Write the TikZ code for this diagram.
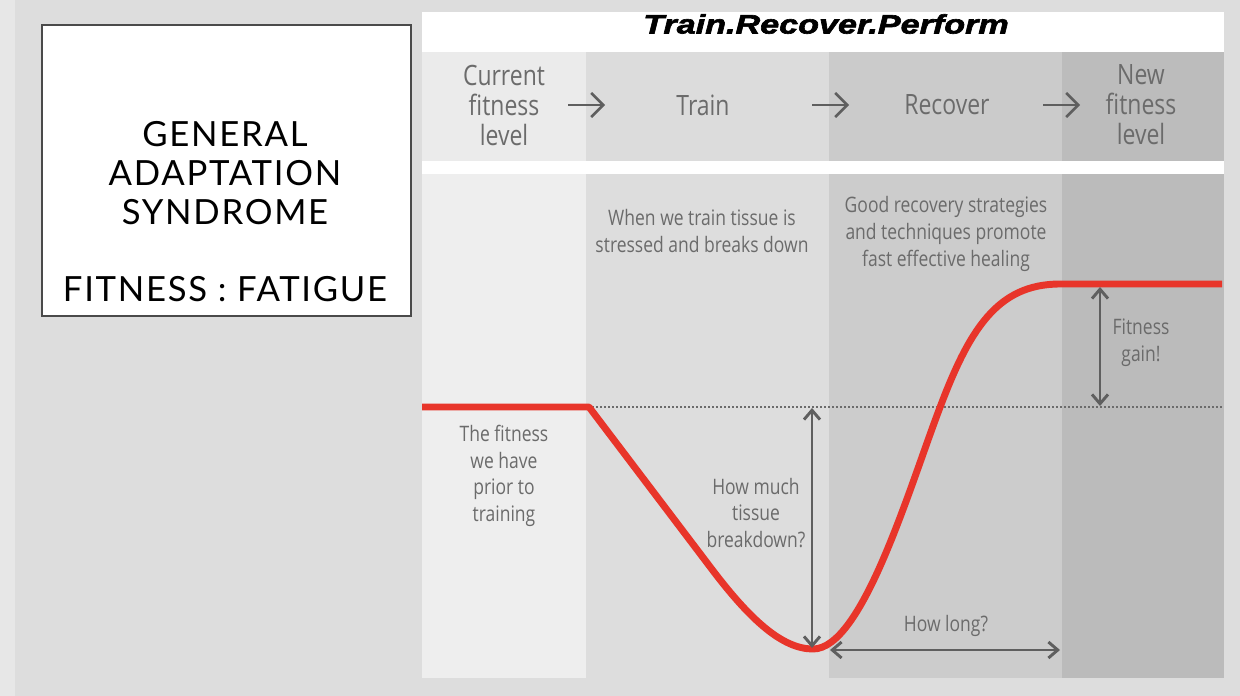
\documentclass[tikz,border=0pt]{standalone}
\usepackage{fontspec}
\usetikzlibrary{arrows.meta}
\newfontfamily\chartfont{Open Sans}[FakeStretch=0.82]
\newfontfamily\boxfont{Lato}[LetterSpace=5]
\newfontfamily\titlefont{Liberation Sans}[FakeStretch=1.28,FakeBold=2.4]
\definecolor{pagebg}{HTML}{DDDDDD}
\definecolor{stripbg}{HTML}{E7E7E7}
\definecolor{boxborder}{HTML}{4A4A4A}
\definecolor{colA}{HTML}{EEEEEE}
\definecolor{colB}{HTML}{DDDDDD}
\definecolor{colC}{HTML}{CCCCCC}
\definecolor{colD}{HTML}{BBBBBB}
\definecolor{hdrA}{HTML}{EBEBEB}
\definecolor{hdrB}{HTML}{DCDCDC}
\definecolor{hdrC}{HTML}{CBCBCB}
\definecolor{hdrD}{HTML}{BCBCBC}
\definecolor{txtgray}{HTML}{6B6B6B}
\definecolor{arrgray}{HTML}{5F5F5F}
\definecolor{curvered}{HTML}{E8352A}
\tikzset{
  boxtext/.style={font={\boxfont\fontsize{26}{29}\selectfont}, text=black, align=center, inner sep=0pt},
  hdrtext/.style={font={\chartfont\fontsize{21}{22.5}\selectfont}, text=txtgray, align=center, inner sep=0pt},
  lowtext/.style={font={\chartfont\fontsize{16}{20}\selectfont}, text=txtgray, align=center, inner sep=0pt},
  hdrarrow/.style={draw=arrgray, line width=1.9pt, -{Straight Barb[length=9pt,width=18pt,line width=1.9pt]}},
  dimarrow/.style={draw=arrgray, line width=2.2pt, {Straight Barb[length=7pt,width=12pt,line width=2.2pt]}-{Straight Barb[length=7pt,width=12pt,line width=2.2pt]}},
  fitcurve/.style={draw=curvered, line width=5.2pt, line join=round},
  refline/.style={draw=txtgray, line width=1.1pt, dash pattern=on 1.5pt off 1.5pt}
}
\begin{document}
\begin{tikzpicture}[x=0.75pt,y=-0.75pt]
\useasboundingbox (0,0) rectangle (1240,696);
\fill[pagebg] (0,0) rectangle (1240,696);
\fill[stripbg] (0,0) rectangle (15,696);

% left title box
\node[draw=boxborder, line width=2pt, fill=white, minimum width=276.75pt, minimum height=218.25pt, inner sep=0pt] (box) at (226.5,170.5) {};
\node[boxtext] (gas) at (225,173) {GENERAL\\ADAPTATION\\SYNDROME};
\node[boxtext] (ff) at (225,289) {FITNESS : FATIGUE};

% chart panel
\fill[white] (422,12) rectangle (1224,678);
% header band
\fill[hdrA] (422,52) rectangle (586,161);
\fill[hdrB] (586,52) rectangle (829,161);
\fill[hdrC] (829,52) rectangle (1062,161);
\fill[hdrD] (1062,52) rectangle (1224,161);
% lower area
\fill[colA] (422,174) rectangle (586,678);
\fill[colB] (586,174) rectangle (829,678);
\fill[colC] (829,174) rectangle (1062,678);
\fill[colD] (1062,174) rectangle (1224,678);

% title
\node[font={\titlefont\bfseries\itshape\fontsize{20}{22}\selectfont}, text=black, inner sep=0pt] (title) at (826,24) {Train.Recover.Perform};

% header texts
\node[hdrtext] (hcur) at (504,105) {Current\\fitness\\level};
\node[hdrtext] (htrain) at (703,105) {Train};
\node[hdrtext] (hrec) at (947,105) {Recover};
\node[hdrtext] (hnew) at (1141,105) {New\\fitness\\level};
\coordinate (a1s) at (568,105); \coordinate (a1e) at (605,105);
\coordinate (a2s) at (812,105); \coordinate (a2e) at (849,105);
\coordinate (a3s) at (1043,105); \coordinate (a3e) at (1080,105);
\draw[hdrarrow] (a1s) -- (a1e);
\draw[hdrarrow] (a2s) -- (a2e);
\draw[hdrarrow] (a3s) -- (a3e);

% lower texts
\node[lowtext] (ttrain) at (702,231) {When we train tissue is\\stressed and breaks down};
\node[lowtext] (trec) at (946,234) {Good recovery strategies\\and techniques promote\\fast effective healing};
\node[lowtext] (tprior) at (504,476) {The fitness\\we have\\prior to\\training};
\node[lowtext] (tmuch) at (756,513) {How much\\tissue\\breakdown?};
\node[lowtext] (tgain) at (1141,343) {Fitness\\gain!};
\node[lowtext] (tlong) at (946,626) {How long?};

% reference dotted line
\coordinate (dotS) at (588,407);
\coordinate (dotE) at (1222,407);
\draw[refline] (dotS) -- (dotE);

% fitness curve
\coordinate (c0) at (422,407);
\coordinate (knee) at (589,407);
\coordinate (low) at (813,649);
\coordinate (mid) at (939,410);
\coordinate (plat) at (1060,284);
\coordinate (cend) at (1222,284);
\draw[fitcurve] (c0) -- (knee) -- (714,572)
  .. controls (750,619) and (782,649) .. (low)
  .. controls (862,649) and (908,492) .. (mid)
  .. controls (969,330) and (997,284) .. (plat) -- (cend);

% dimension arrows
\coordinate (mTop) at (812,408);
\coordinate (mBot) at (812,648);
\draw[dimarrow] (mTop) -- (mBot);
\coordinate (gTop) at (1100,287);
\coordinate (gBot) at (1100,406);
\draw[dimarrow] (gTop) -- (gBot);
\coordinate (lL) at (830,650);
\coordinate (lR) at (1060,650);
\draw[dimarrow] (lL) -- (lR);
\end{tikzpicture}
\end{document}
